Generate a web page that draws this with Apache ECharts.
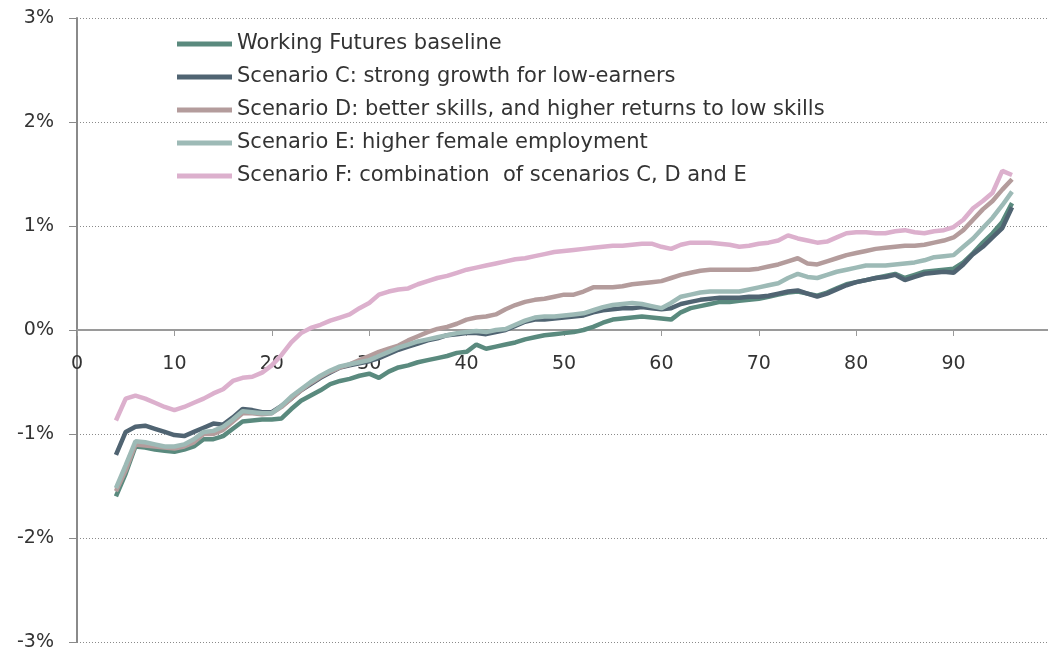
<!DOCTYPE html>
<html>
<head>
<meta charset="utf-8">
<script src="https://cdn.jsdelivr.net/npm/echarts@6/dist/echarts.min.js"></script>
<style>
html,body{margin:0;padding:0;background:#fff;}
#chart{width:1048px;height:654px;}
</style>
</head>
<body>
<div id="chart"></div>
<script>
// Percentile positions (x)
const percentiles = [4,5,6,7,8,9,10,11,12,13,14,15,16,17,18,19,20,21,22,23,24,25,26,27,28,29,30,31,32,33,34,35,36,37,38,39,40,41,42,43,44,45,46,47,48,49,50,51,52,53,54,55,56,57,58,59,60,61,62,63,64,65,66,67,68,69,70,71,72,73,74,75,76,77,78,79,80,81,82,83,84,85,86,87,88,89,90,91,92,93,94,95,96];

const seriesNames = [
  "Working Futures baseline",
  "Scenario C: strong growth for low-earners",
  "Scenario D: better skills, and higher returns to low skills",
  "Scenario E: higher female employment",
  "Scenario F: combination  of scenarios C, D and E"
];

// values in %
const baseline = [-1.60,-1.38,-1.12,-1.13,-1.15,-1.16,-1.17,-1.15,-1.12,-1.05,-1.05,-1.02,-0.95,-0.88,-0.87,-0.86,-0.86,-0.85,-0.76,-0.68,-0.63,-0.58,-0.52,-0.49,-0.47,-0.44,-0.42,-0.46,-0.40,-0.36,-0.34,-0.31,-0.29,-0.27,-0.25,-0.22,-0.21,-0.14,-0.18,-0.16,-0.14,-0.12,-0.09,-0.07,-0.05,-0.04,-0.03,-0.02,0.00,0.03,0.07,0.10,0.11,0.12,0.13,0.12,0.11,0.10,0.17,0.21,0.23,0.25,0.27,0.27,0.28,0.29,0.30,0.32,0.34,0.36,0.37,0.35,0.33,0.36,0.40,0.44,0.46,0.48,0.50,0.52,0.54,0.50,0.53,0.56,0.57,0.58,0.59,0.65,0.74,0.84,0.93,1.04,1.22];
const scenarioC = [-1.20,-0.98,-0.93,-0.92,-0.95,-0.98,-1.01,-1.02,-0.98,-0.94,-0.90,-0.91,-0.84,-0.76,-0.77,-0.79,-0.79,-0.73,-0.66,-0.58,-0.52,-0.46,-0.41,-0.36,-0.34,-0.32,-0.30,-0.27,-0.23,-0.19,-0.16,-0.13,-0.10,-0.08,-0.05,-0.04,-0.03,-0.03,-0.04,-0.02,0.00,0.04,0.08,0.10,0.10,0.11,0.12,0.13,0.14,0.17,0.19,0.20,0.21,0.21,0.22,0.21,0.20,0.21,0.25,0.27,0.29,0.30,0.31,0.31,0.31,0.32,0.32,0.33,0.35,0.37,0.38,0.35,0.32,0.35,0.39,0.43,0.46,0.48,0.50,0.51,0.53,0.48,0.51,0.54,0.55,0.56,0.55,0.63,0.73,0.80,0.89,0.98,1.18];
const scenarioD = [-1.55,-1.35,-1.10,-1.11,-1.12,-1.13,-1.14,-1.12,-1.08,-1.00,-1.00,-0.96,-0.88,-0.80,-0.80,-0.81,-0.80,-0.74,-0.66,-0.58,-0.51,-0.45,-0.40,-0.36,-0.33,-0.29,-0.25,-0.21,-0.18,-0.15,-0.10,-0.06,-0.02,0.01,0.03,0.06,0.10,0.12,0.13,0.15,0.20,0.24,0.27,0.29,0.30,0.32,0.34,0.34,0.37,0.41,0.41,0.41,0.42,0.44,0.45,0.46,0.47,0.50,0.53,0.55,0.57,0.58,0.58,0.58,0.58,0.58,0.59,0.61,0.63,0.66,0.69,0.64,0.63,0.66,0.69,0.72,0.74,0.76,0.78,0.79,0.80,0.81,0.81,0.82,0.84,0.86,0.89,0.96,1.06,1.16,1.24,1.35,1.45];
const scenarioE = [-1.52,-1.30,-1.07,-1.08,-1.10,-1.12,-1.12,-1.10,-1.05,-0.98,-0.97,-0.93,-0.86,-0.78,-0.79,-0.80,-0.80,-0.73,-0.64,-0.57,-0.50,-0.44,-0.39,-0.35,-0.33,-0.31,-0.29,-0.25,-0.21,-0.17,-0.14,-0.11,-0.09,-0.07,-0.05,-0.03,-0.02,-0.01,-0.02,0.00,0.01,0.05,0.09,0.12,0.13,0.13,0.14,0.15,0.16,0.19,0.22,0.24,0.25,0.26,0.25,0.23,0.21,0.26,0.32,0.34,0.36,0.37,0.37,0.37,0.37,0.39,0.41,0.43,0.45,0.50,0.54,0.51,0.50,0.53,0.56,0.58,0.60,0.62,0.62,0.62,0.63,0.64,0.65,0.67,0.70,0.71,0.72,0.80,0.88,0.98,1.08,1.20,1.33];
const scenarioF = [-0.87,-0.66,-0.63,-0.66,-0.70,-0.74,-0.77,-0.74,-0.70,-0.66,-0.61,-0.57,-0.49,-0.46,-0.45,-0.41,-0.34,-0.24,-0.12,-0.03,0.02,0.05,0.09,0.12,0.15,0.21,0.26,0.34,0.37,0.39,0.40,0.44,0.47,0.50,0.52,0.55,0.58,0.60,0.62,0.64,0.66,0.68,0.69,0.71,0.73,0.75,0.76,0.77,0.78,0.79,0.80,0.81,0.81,0.82,0.83,0.83,0.80,0.78,0.82,0.84,0.84,0.84,0.83,0.82,0.80,0.81,0.83,0.84,0.86,0.91,0.88,0.86,0.84,0.85,0.89,0.93,0.94,0.94,0.93,0.93,0.95,0.96,0.94,0.93,0.95,0.96,0.99,1.06,1.17,1.24,1.32,1.53,1.49];

const allValues = [baseline, scenarioC, scenarioD, scenarioE, scenarioF];
const colors = ["#5a8a7e", "#506472", "#b49c9c", "#9dbab6", "#dcb0cd"];

const FONT = "DejaVu Sans";

const chart = echarts.init(document.getElementById('chart'), null, {renderer: 'canvas'});
const series = allValues.map((vals, i) => ({
  name: seriesNames[i],
  type: 'line',
  data: percentiles.map((p, j) => [p, vals[j]]),
  showSymbol: false,
  symbol: 'none',
  lineStyle: {width: 4.5, color: colors[i]},
  itemStyle: {color: colors[i]},
  z: 3,
  animation: false
}));

const GRID_TOP = 18, GRID_BOTTOM = 12, H = 654;
const plotH = H - GRID_TOP - GRID_BOTTOM;

chart.setOption({
  animation: false,
  backgroundColor: '#ffffff',
  grid: {left: 77, right: -3, top: GRID_TOP, bottom: GRID_BOTTOM, containLabel: false, outerBoundsMode: 'none'},
  legend: {
    show: true,
    orient: 'vertical',
    left: 172,
    top: 27,
    icon: 'rect',
    itemWidth: 55,
    itemHeight: 5,
    itemGap: 9,
    textStyle: {fontFamily: FONT, fontSize: 21, color: '#333', lineHeight: 24, padding: [0,0,0,0]},
    data: seriesNames
  },
  xAxis: {
    type: 'value',
    min: 0,
    max: 100,
    interval: 10,
    offset: -plotH / 2,
    axisLine: {show: true, onZero: false, lineStyle: {color: '#9a9a9a', width: 2}},
    axisTick: {show: true, length: 6, lineStyle: {color: '#9a9a9a', width: 1}},
    axisLabel: {
      margin: 25,
      fontFamily: FONT,
      fontSize: 19,
      color: '#333',
      formatter: v => (v >= 100 ? '' : String(v))
    },
    splitLine: {show: false}
  },
  yAxis: {
    type: 'value',
    min: -3,
    max: 3,
    interval: 1,
    axisLine: {show: true, onZero: false, lineStyle: {color: '#8a8a8a', width: 2}},
    axisTick: {show: true, length: 8, inside: false, lineStyle: {color: '#8a8a8a', width: 1}},
    axisLabel: {
      margin: 23,
      align: 'right',
      fontFamily: FONT,
      fontSize: 19,
      color: '#333',
      formatter: v => v + '%'
    },
    splitLine: {show: true, lineStyle: {color: '#8a8a8a', width: 1, type: [1, 2]}}
  },
  series: series
});
</script>
</body>
</html>
